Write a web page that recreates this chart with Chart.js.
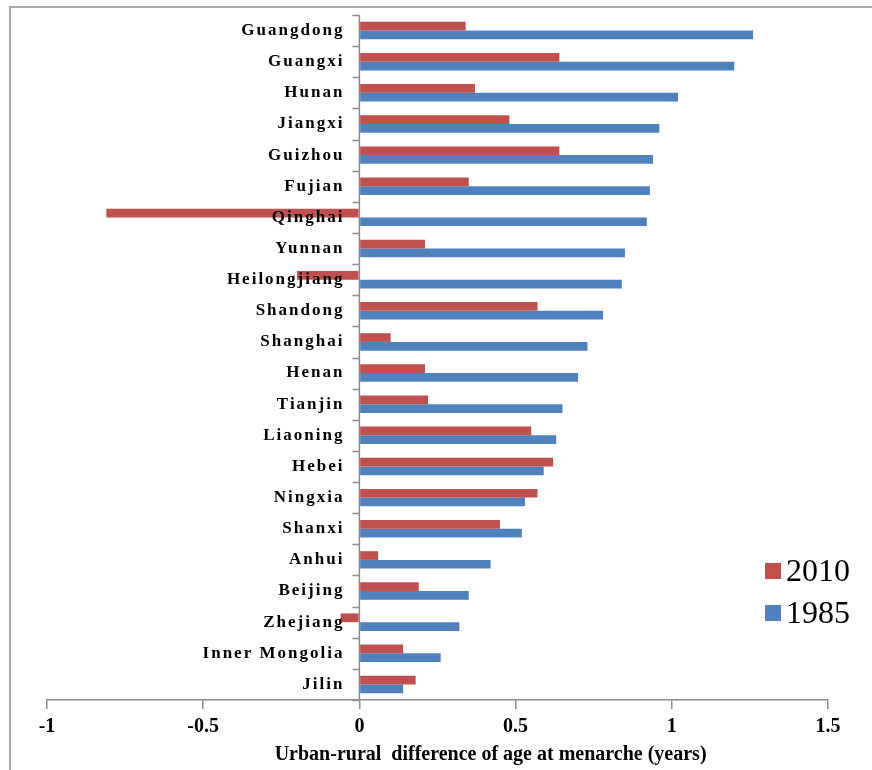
<!DOCTYPE html>
<html>
<head>
<meta charset="utf-8">
<script src="https://cdn.jsdelivr.net/npm/chart.js@4/dist/chart.umd.min.js"></script>
<style>
  html, body { margin:0; padding:0; background:#fff; overflow:hidden; }
  #wrap { position:relative; width:872px; height:770px; overflow:hidden; }
  #frame { position:absolute; left:9px; top:6px; width:900px; height:900px; border-left:2px solid #aaa; border-top:2px solid #aaa; }
  #grafica { position:absolute; left:0; top:0; }
</style>
</head>
<body>
<div id="wrap">
  <div id="frame"></div>
  <canvas id="grafica" width="872" height="770"></canvas>
</div>
<script>
// Datos (diferencia urbano-rural, años)
const provincias = ['Guangdong','Guangxi','Hunan','Jiangxi','Guizhou','Fujian','Qinghai','Yunnan','Heilongjiang','Shandong','Shanghai','Henan','Tianjin','Liaoning','Hebei','Ningxia','Shanxi','Anhui','Beijing','Zhejiang','Inner Mongolia','Jilin'];
const valores2010 = [0.34,0.64,0.37,0.48,0.64,0.35,-0.81,0.21,-0.20,0.57,0.10,0.21,0.22,0.55,0.62,0.57,0.45,0.06,0.19,-0.06,0.14,0.18];
const valores1985 = [1.26,1.20,1.02,0.96,0.94,0.93,0.92,0.85,0.84,0.78,0.73,0.70,0.65,0.63,0.59,0.53,0.52,0.42,0.35,0.32,0.26,0.14];
const series = ['2010','1985'];
const ticksX = [-1,-0.5,0,0.5,1,1.5];
const tituloX = 'Urban-rural  difference of age at menarche (years)';

const ROJO = '#C0504D', AZUL = '#4F81BD', GRIS = '#8c8c8c';
const SERIF = "'Liberation Serif', 'Times New Roman', serif";

// Leyenda, titulo del eje y marcas del eje y dibujados a mano
const extras = {
  id: 'extras',
  afterLayout(chart){
    // etiquetas de provincias: espaciado de letras y separadas del eje
    const y = chart.scales.y;
    if(y && !y._conEspacio){
      const orig = y.drawLabels;
      y.drawLabels = function(area){
        const c = this.ctx; c.save(); c.letterSpacing = '2px'; c.translate(-15, 0);
        orig.call(this, area); c.restore();
      };
      y._conEspacio = true;
    }
  },
  afterDatasetsDraw(chart){
    // marcas cortas entre categorias, a la izquierda del eje en x=0
    const c = chart.ctx, x = chart.scales.x, y = chart.scales.y;
    const x0 = x.getPixelForValue(0);
    c.save();
    c.strokeStyle = GRIS; c.lineWidth = 1.5;
    c.beginPath();
    for(let i = 0; i <= provincias.length; i++){
      const py = Math.round(y.getPixelForValue(i - 0.5)) + 0.5;
      c.moveTo(x0 - 7, py); c.lineTo(x0, py);
    }
    c.moveTo(x0, chart.chartArea.top); c.lineTo(x0, chart.chartArea.bottom);
    c.stroke();
    c.restore();
  },
  afterDraw(chart){
    const c = chart.ctx;
    const x = chart.scales.x;
    c.save();
    // titulo eje x
    c.font = 'bold 20px ' + SERIF;
    c.fillStyle = '#000';
    c.textAlign = 'center'; c.textBaseline = 'alphabetic';
    c.fillText(tituloX, x.getPixelForValue(0.42), 760);
    // leyenda
    c.font = '32px ' + SERIF;
    c.textAlign = 'left'; c.textBaseline = 'middle';
    chart.data.datasets.forEach((ds, i) => {
      const cy = 571 + i * 42;
      c.fillStyle = ds.backgroundColor;
      c.fillRect(765, cy - 8, 16, 16);
      c.fillStyle = '#000';
      c.fillText(ds.label, 786, cy + 2);
    });
    c.restore();
  }
};

const ctx = document.getElementById('grafica').getContext('2d');
new Chart(ctx, {
  type: 'bar',
  data: {
    labels: provincias,
    datasets: [
      { label: series[0], data: valores2010, backgroundColor: ROJO, borderWidth: 0, categoryPercentage: 0.56, barPercentage: 1 },
      { label: series[1], data: valores1985, backgroundColor: AZUL, borderWidth: 0, categoryPercentage: 0.56, barPercentage: 1 }
    ]
  },
  options: {
    indexAxis: 'y',
    responsive: false,
    animation: false,
    devicePixelRatio: 1,
    layout: { padding: { left: 47, right: 44, top: 15, bottom: 25 } },
    plugins: { legend: { display: false }, tooltip: { enabled: false } },
    scales: {
      x: {
        type: 'linear', min: -1, max: 1.5,
        afterBuildTicks: s => { s.ticks = ticksX.map(v => ({ value: v })); },
        border: { color: GRIS, width: 1.5 },
        grid: { drawOnChartArea: false, color: GRIS, tickLength: 9, lineWidth: 1.5 },
        ticks: { color: '#000', font: { family: SERIF, size: 20, weight: 'bold' }, padding: 6, maxRotation: 0, callback: v => String(v) }
      },
      y: {
        position: { x: 0 },
        border: { display: false },
        grid: { display: false, offset: true },
        ticks: { z: 1, color: '#000', font: { family: SERIF, size: 17, weight: 'bold' }, padding: 0, autoSkip: false }
      }
    }
  },
  plugins: [extras]
});
</script>
</body>
</html>
